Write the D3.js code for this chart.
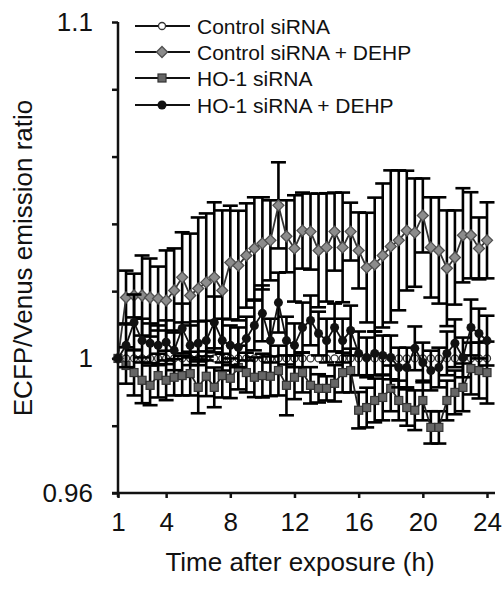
<!DOCTYPE html>
<html>
<head>
<meta charset="utf-8">
<script src="https://cdn.jsdelivr.net/npm/d3@7"></script>
<style>
  body { margin: 0; background: #fff; }
  text { font-family: "Liberation Sans", Arial, Helvetica, sans-serif; fill: #111; }
</style>
</head>
<body>
<div id="chart"></div>
<script>
// time points (h)
const hours = [1, 1.5, 2, 2.5, 3, 3.5, 4, 4.5, 5, 5.5, 6, 6.5, 7, 7.5, 8, 8.5, 9, 9.5, 10, 10.5,
    11, 11.5, 12, 12.5, 13, 13.5, 14, 14.5, 15, 15.5, 16, 16.5, 17, 17.5, 18, 18.5, 19, 19.5,
    20, 20.5, 21, 21.5, 22, 22.5, 23, 23.5, 24];

const xTicks = [1, 4, 8, 12, 16, 20, 24];
const yTicks = [0.96, 0.98, 1, 1.02, 1.04, 1.06, 1.08, 1.1];
const yLabels = { 0.96: '0.96', 1: '1', 1.1: '1.1' };

const seriesNames = ['Control siRNA', 'Control siRNA + DEHP', 'HO-1 siRNA', 'HO-1 siRNA + DEHP'];

// control siRNA (reference, flat)
const controlMean = [1, 1, 1, 1, 1, 1, 1, 1, 1, 1, 1, 1, 1, 1, 1, 1, 1, 1, 1, 1, 1, 1, 1, 1,
    1, 1, 1, 1, 1, 1, 1, 1, 1, 1, 1, 1, 1, 1, 1, 1, 1, 1, 1, 1, 1, 1, 1];
const controlErr = [0, 0, 0, 0, 0, 0, 0, 0, 0, 0, 0, 0, 0, 0, 0, 0, 0, 0, 0, 0, 0, 0, 0, 0,
    0, 0, 0, 0, 0, 0, 0, 0, 0, 0, 0, 0, 0, 0, 0, 0, 0, 0, 0, 0, 0, 0, 0];

// control siRNA + DEHP
const dehpMean = [1, 1.0181, 1.0187, 1.0187, 1.0181, 1.0178, 1.0172, 1.0202, 1.0241, 1.0187,
    1.0208, 1.0226, 1.0241, 1.0202, 1.0285, 1.0276, 1.0306, 1.0327, 1.0342, 1.0351, 1.0455,
    1.0363, 1.0327, 1.0380, 1.0377, 1.0321, 1.0330, 1.0377, 1.0330, 1.0377, 1.0321, 1.0270,
    1.0279, 1.0306, 1.0333, 1.0351, 1.0380, 1.0374, 1.0425, 1.0330, 1.0321, 1.0268, 1.0300,
    1.0366, 1.0366, 1.0327, 1.0351];
const dehpErr = [0, 0.0080, 0.0065, 0.0119, 0.0116, 0.0095, 0.0149, 0.0125, 0.0134, 0.0184,
    0.0211, 0.0205, 0.0223, 0.0238, 0.0169, 0.0163, 0.0155, 0.0152, 0.0137, 0.0119, 0.0128,
    0.0107, 0.0158, 0.0113, 0.0113, 0.0169, 0.0161, 0.0116, 0.0163, 0.0086, 0.0113, 0.0163,
    0.0199, 0.0214, 0.0226, 0.0208, 0.0178, 0.0161, 0.0110, 0.0149, 0.0158, 0.0172, 0.0140,
    0.0140, 0.0128, 0.0092, 0.0113];

// HO-1 siRNA
const hoMean = [1, 0.9979, 0.9958, 0.9935, 0.9920, 0.9949, 0.9935, 0.9944, 0.9949, 0.9955,
    0.9914, 0.9947, 0.9914, 0.9949, 0.9941, 0.9973, 0.9958, 0.9944, 0.9949, 0.9947, 0.9964,
    0.9920, 0.9944, 0.9958, 0.9920, 0.9911, 0.9911, 0.9926, 0.9958, 0.9964, 0.9846, 0.9854,
    0.9875, 0.9884, 0.9911, 0.9875, 0.9854, 0.9846, 0.9875, 0.9795, 0.9795, 0.9875, 0.9899,
    0.9914, 0.9970, 0.9964, 0.9958];
const hoErr = [0, 0.0054, 0.0068, 0.0068, 0.0059, 0.0065, 0.0059, 0.0054, 0.0059, 0.0065,
    0.0077, 0.0059, 0.0059, 0.0065, 0.0059, 0.0065, 0.0059, 0.0059, 0.0065, 0.0059, 0.0074,
    0.0089, 0.0065, 0.0059, 0.0054, 0.0042, 0.0036, 0.0054, 0.0059, 0.0065, 0.0054, 0.0059,
    0.0065, 0.0068, 0.0068, 0.0059, 0.0054, 0.0059, 0.0059, 0.0048, 0.0048, 0.0059, 0.0065,
    0.0071, 0.0077, 0.0083, 0.0092];

// HO-1 siRNA + DEHP
const hoDehpMean = [1, 1.0039, 1.0107, 1.0053, 1.0045, 1.0039, 1.0048, 1.0024, 1.0089, 1.0039,
    1.0045, 1.0053, 1.0107, 1.0053, 1.0039, 1.0033, 1.0059, 1.0098, 1.0134, 1.0053, 1.0166,
    1.0053, 1.0039, 1.0092, 1.0113, 1.0074, 1.0053, 1.0092, 1.0053, 1.0083, 1.0015, 1.0003,
    1.0015, 1.0009, 1.0003, 0.9973, 0.9973, 1.0030, 0.9988, 0.9964, 0.9973, 1.0015, 1.0045,
    1.0003, 1.0092, 1.0074, 1.0053];
const hoDehpErr = [0, 0.0065, 0.0083, 0.0065, 0.0059, 0.0059, 0.0065, 0.0059, 0.0074, 0.0059,
    0.0065, 0.0059, 0.0077, 0.0065, 0.0059, 0.0059, 0.0065, 0.0074, 0.0083, 0.0065, 0.0089,
    0.0071, 0.0065, 0.0074, 0.0074, 0.0065, 0.0065, 0.0071, 0.0065, 0.0074, 0.0065, 0.0059,
    0.0065, 0.0059, 0.0065, 0.0059, 0.0059, 0.0065, 0.0059, 0.0059, 0.0059, 0.0065, 0.0071,
    0.0059, 0.0083, 0.0074, 0.0074];

const W = 502, H = 591;

const svg = d3.select('#chart')
    .append('svg')
    .attr('width', W)
    .attr('height', H);

// scales
const xScale = d3.scaleLinear().domain([1, 24]).range([118, 487]);
const yScale = d3.scaleLinear().domain([0.96, 1.1]).range([493, 22]);

// marker shapes
const markers = [
    g => g.append('circle').attr('r', 3.5).attr('fill', '#fff').attr('stroke', '#333').attr('stroke-width', 1.3),
    g => g.append('path').attr('d', 'M0,-5.5L5.5,0L0,5.5L-5.5,0Z').attr('fill', '#8c8c8c').attr('stroke', '#505050').attr('stroke-width', 1.3),
    g => g.append('rect').attr('x', -4).attr('y', -4).attr('width', 8).attr('height', 8).attr('fill', '#666').attr('stroke', '#333').attr('stroke-width', 1.2),
    g => g.append('circle').attr('r', 4.5).attr('fill', '#111')
];

const series = [
    { name: seriesNames[0], mean: controlMean, err: controlErr, line: '#222' },
    { name: seriesNames[1], mean: dehpMean, err: dehpErr, line: '#333' },
    { name: seriesNames[2], mean: hoMean, err: hoErr, line: '#222' },
    { name: seriesNames[3], mean: hoDehpMean, err: hoDehpErr, line: '#111' }
];

const plot = svg.append('g').attr('id', 'plot');
const line = d3.line().x(d => xScale(d.t)).y(d => yScale(d.v));
const capW = 7.5;

series.forEach((s, k) => {
    const pts = hours.map((t, i) => ({ t: t, v: s.mean[i], e: s.err[i] }));
    const g = plot.append('g').attr('class', 'series s' + k);

    // error bars
    const eb = g.selectAll('.eb')
        .data(pts.filter(d => d.e > 0))
        .enter()
        .append('g')
        .attr('class', 'eb')
        .attr('stroke', '#000')
        .attr('stroke-width', 2.6);
    eb.append('line')
        .attr('x1', d => xScale(d.t)).attr('x2', d => xScale(d.t))
        .attr('y1', d => yScale(d.v - d.e)).attr('y2', d => yScale(d.v + d.e));
    eb.append('line')
        .attr('x1', d => xScale(d.t) - capW).attr('x2', d => xScale(d.t) + capW)
        .attr('y1', d => yScale(d.v + d.e)).attr('y2', d => yScale(d.v + d.e));
    eb.append('line')
        .attr('x1', d => xScale(d.t) - capW).attr('x2', d => xScale(d.t) + capW)
        .attr('y1', d => yScale(d.v - d.e)).attr('y2', d => yScale(d.v - d.e));

    g.append('path')
        .datum(pts)
        .attr('fill', 'none')
        .attr('stroke', s.line)
        .attr('stroke-width', 1.8)
        .attr('d', line);

    g.selectAll('.mk')
        .data(pts)
        .enter()
        .append('g')
        .attr('class', 'mk')
        .attr('transform', d => `translate(${xScale(d.t)},${yScale(d.v)})`)
        .each(function () { markers[k](d3.select(this)); });
});

// axes
const yAxis = d3.axisLeft(yScale)
    .tickValues(yTicks)
    .tickSize(6)
    .tickSizeOuter(0)
    .tickPadding(19)
    .tickFormat(d => yLabels[Math.round(d * 100) / 100] || '');

const yAxisGroup = svg.append('g')
    .attr('transform', `translate(${xScale(1)},0)`)
    .call(yAxis);
yAxisGroup.select('.domain').attr('d', `M0,${yScale(1.1)}V${yScale(0.96) + 4}`);

const xAxis = d3.axisBottom(xScale)
    .tickValues(xTicks)
    .tickSize(5)
    .tickSizeOuter(0)
    .tickPadding(15)
    .tickFormat(d3.format('d'));

const xAxisGroup = svg.append('g')
    .attr('transform', `translate(0,${yScale(0.96)})`)
    .call(xAxis);
xAxisGroup.select('.domain').attr('d', 'M112,0H495');

[yAxisGroup, xAxisGroup].forEach(a => {
    a.selectAll('.domain, .tick line').attr('stroke', '#111').attr('stroke-width', 2.5);
    a.selectAll('text').style('font-size', '26px').attr('fill', '#111');
});

// axis titles
svg.append('text')
    .attr('transform', 'translate(32,258) rotate(-90)')
    .attr('text-anchor', 'middle')
    .style('font-size', '26px')
    .text('ECFP/Venus emission ratio');

svg.append('text')
    .attr('x', 300)
    .attr('y', 571)
    .attr('text-anchor', 'middle')
    .style('font-size', '26px')
    .text('Time after exposure (h)');

// legend
const legendY = [26, 52, 78, 105];
const legend = svg.append('g').attr('id', 'legend');
series.forEach((s, k) => {
    const row = legend.append('g').attr('transform', `translate(0,${legendY[k]})`);
    row.append('line')
        .attr('x1', 135).attr('x2', 190)
        .attr('y1', 0).attr('y2', 0)
        .attr('stroke', '#111').attr('stroke-width', 2);
    markers[k](row.append('g').attr('transform', 'translate(162,0)'));
    row.append('text')
        .attr('x', 197)
        .attr('dy', '0.36em')
        .style('font-size', '21px')
        .text(s.name);
});
</script>
</body>
</html>
